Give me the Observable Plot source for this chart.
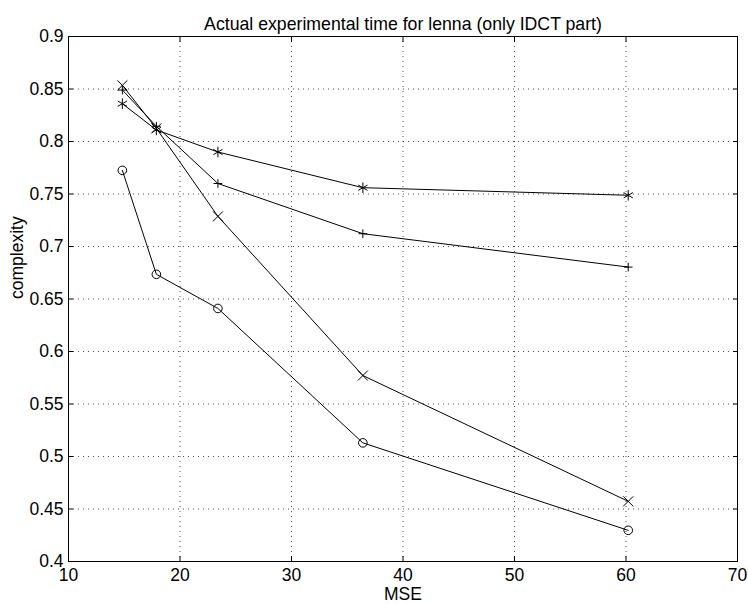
<!DOCTYPE html>
<html>
<head>
<meta charset="utf-8">
<script src="https://cdn.jsdelivr.net/npm/d3@7"></script>
<script src="https://cdn.jsdelivr.net/npm/@observablehq/plot@0.6"></script>
<style>
  html, body { margin: 0; padding: 0; background: #fff; }
  #chart svg { display: block; }
</style>
</head>
<body>
<div id="chart"></div>
<script>
const titleText = "Actual experimental time for lenna (only IDCT part)";
const xLabel = "MSE";
const yLabel = "complexity";

const mse = [14.83, 17.88, 23.4, 36.4, 60.2];
const seriesCircle = [0.7725, 0.6735, 0.641, 0.513, 0.4297];
const seriesTimes = [0.8535, 0.8125, 0.7287, 0.5771, 0.4573];
const seriesPlus = [0.849, 0.8145, 0.760, 0.7122, 0.6804];
const seriesStar = [0.836, 0.811, 0.790, 0.756, 0.7488];

const xTicks = [10, 20, 30, 40, 50, 60, 70];
const yTicks = [0.4, 0.45, 0.5, 0.55, 0.6, 0.65, 0.7, 0.75, 0.8, 0.85, 0.9];

const series = [
  {name: "circle", values: seriesCircle, symbol: "circle", r: 4.3},
  {name: "times", values: seriesTimes, symbol: "times", r: 4.6},
  {name: "plus", values: seriesPlus, symbol: "plus", r: 2.9},
  {name: "star", values: seriesStar, symbol: "asterisk", r: 5}
];
const rows = series.flatMap(s => s.values.map((v, i) => ({series: s.name, x: mse[i], y: v, symbol: s.symbol, r: s.r})));

const fontFamily = "'Liberation Sans', Arial, Helvetica, sans-serif";
const fs = 17.5;

const chart = Plot.plot({
  width: 748,
  height: 604,
  marginLeft: 68,
  marginRight: 11,
  marginTop: 36,
  marginBottom: 43,
  style: {fontFamily, fontSize: fs + "px", background: "#fff", color: "#000"},
  x: {domain: [10, 70], ticks: xTicks, label: null},
  y: {domain: [0.4, 0.9], ticks: yTicks, label: null},
  r: {type: "identity"},
  symbol: {type: "identity"},
  marks: [
    Plot.gridX(xTicks, {stroke: "#000", strokeOpacity: 0.7, strokeDasharray: "1,4"}),
    Plot.gridY(yTicks, {stroke: "#000", strokeOpacity: 0.7, strokeDasharray: "1,4"}),
    Plot.frame({stroke: "#000", strokeWidth: 1}),
    Plot.axisX(xTicks, {anchor: "bottom", tickSize: -5, tickPadding: 12, tickFormat: d => String(d), fontSize: fs}),
    Plot.axisX(xTicks, {anchor: "top", tickSize: -5, tickFormat: () => ""}),
    Plot.axisY(yTicks, {anchor: "left", tickSize: -5, tickPadding: 10, tickFormat: d => String(+d.toFixed(2)), fontSize: fs}),
    Plot.axisY(yTicks, {anchor: "right", tickSize: -5, tickFormat: () => ""}),
    Plot.line(rows, {x: "x", y: "y", z: "series", stroke: "#000", strokeWidth: 1}),
    Plot.dot(rows, {x: "x", y: "y", symbol: "symbol", r: "r", stroke: "#000", strokeWidth: 1, fill: "none"}),
    Plot.text([titleText], {frameAnchor: "top", dy: -19, fontSize: 17.7, fill: "#000"}),
    Plot.text([xLabel], {frameAnchor: "bottom", dy: 38, fontSize: fs, fill: "#000"}),
    Plot.text([yLabel], {frameAnchor: "left", dx: -51, rotate: -90, fontSize: fs, fill: "#000"})
  ]
});
document.getElementById("chart").appendChild(chart);
</script>
</body>
</html>
